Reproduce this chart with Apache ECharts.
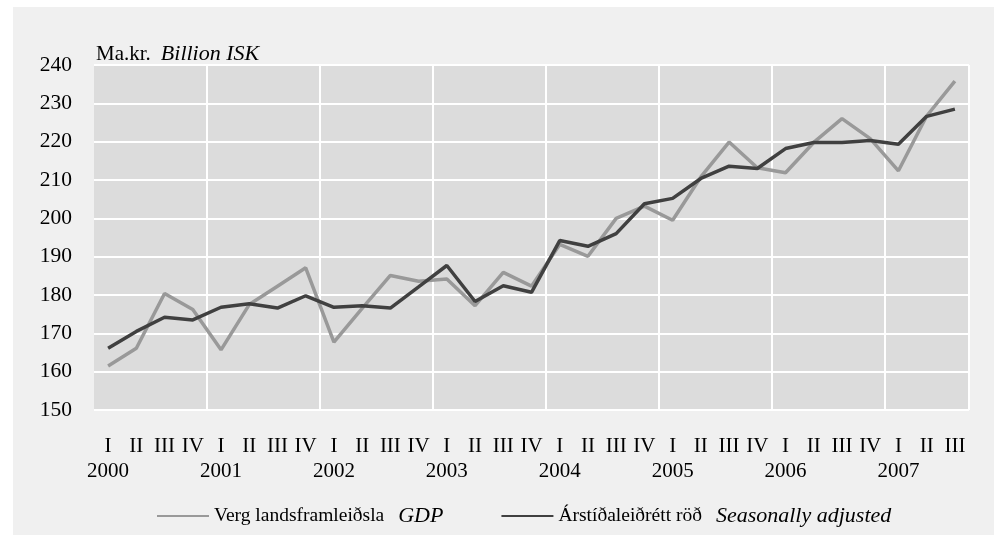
<!DOCTYPE html>
<html>
<head>
<meta charset="utf-8">
<script src="https://cdn.jsdelivr.net/npm/echarts@6/dist/echarts.min.js"></script>
<style>
html,body{margin:0;padding:0;background:#ffffff;}
#c{width:997px;height:536px;}
</style>
</head>
<body>
<div id="c"></div>
<script>
const years = ['2000','2001','2002','2003','2004','2005','2006','2007'];
const quarters = ['I','II','III','IV'];
const gdp = [161.5,166.1,180.4,176.2, 165.7,177.5,182.3,187.1, 167.7,176.5,185.1,183.6,
             184.2,177.2,185.9,182.3, 193.2,190.1,200.0,203.2, 199.5,210.8,219.9,213.2,
             211.9,219.8,226.0,220.8, 212.4,226.7,235.8];
const sa  = [166.1,170.5,174.2,173.5, 176.8,177.7,176.6,179.8, 176.8,177.2,176.6,182.1,
             187.7,178.3,182.4,180.7, 194.2,192.7,196.0,203.8, 205.2,210.4,213.6,213.0,
             218.2,219.8,219.8,220.3, 219.3,226.6,228.5];
const yTicks = {min:150, max:240, interval:10};

const categories = [];
for (let i = 0; i < gdp.length; i++) {
  categories.push(years[Math.floor(i/4)] + ' ' + quarters[i%4]);
}

const FONT = '"Liberation Serif","DejaVu Serif",serif';
const chart = echarts.init(document.getElementById('c'));
chart.setOption({
  backgroundColor: '#ffffff',
  animation: false,
  graphic: [{
    type: 'rect', z: -10, silent: true,
    shape: {x: 13, y: 7, width: 981, height: 528},
    style: {fill: '#f0f0f0'}
  }],
  title: {
    text: '{a|Ma.kr.}  {b|Billion ISK}',
    left: 91, top: 38,
    textStyle: {
      fontWeight: 'normal',
      rich: {
        a: {fontFamily: FONT, fontSize: 21, fontWeight: 'normal', color: '#000'},
        b: {fontFamily: FONT, fontSize: 22, fontWeight: 'normal', fontStyle: 'italic', color: '#000'}
      }
    }
  },
  grid: {
    left: 94, right: 28, top: 65, bottom: 126,
    show: true, backgroundColor: '#dcdcdc', borderWidth: 0
  },
  legend: {
    left: 152, top: 500,
    itemWidth: 52, itemHeight: 2, itemGap: 58,
    icon: 'rect',
    data: [
      {name: 'gdp'},
      {name: 'sa'}
    ],
    formatter: function (n) {
      return n === 'gdp' ? '{a|Verg landsframleiðsla}{s| }{b|GDP}'
                         : '{a|Árstíðaleiðrétt röð}{s| }{b|Seasonally adjusted}';
    },
    textStyle: {
      rich: {
        a: {fontFamily: FONT, fontSize: 19.5, color: '#000'},
        s: {fontFamily: FONT, fontSize: 19.5, width: 14},
        b: {fontFamily: FONT, fontSize: 22, fontStyle: 'italic', color: '#000'}
      }
    }
  },
  xAxis: {
    type: 'category',
    data: categories,
    boundaryGap: true,
    axisLine: {show: false},
    axisTick: {show: false},
    axisLabel: {
      interval: 0,
      margin: 24,
      fontFamily: FONT, fontSize: 21, color: '#000',
      lineHeight: 25,
      formatter: function (v) {
        const p = v.split(' ');
        return p[1] === 'I' ? p[1] + '\n' + p[0] : p[1] + '\n ';
      }
    },
    splitLine: {
      show: true,
      interval: function (i) { return i % 4 === 0 && i !== 0; },
      lineStyle: {color: '#ffffff', width: 2}
    }
  },
  yAxis: {
    type: 'value',
    min: yTicks.min, max: yTicks.max, interval: yTicks.interval,
    axisLine: {show: false},
    axisTick: {show: false},
    axisLabel: {margin: 22, fontFamily: FONT, fontSize: 21.5, color: '#000'},
    splitLine: {show: true, lineStyle: {color: '#ffffff', width: 2}}
  },
  series: [
    {
      name: 'gdp', type: 'line', data: gdp,
      symbol: 'none', z: 2,
      lineStyle: {color: '#999999', width: 3.5},
      itemStyle: {color: '#999999'}
    },
    {
      name: 'sa', type: 'line', data: sa,
      symbol: 'none', z: 3,
      lineStyle: {color: '#404040', width: 3.5},
      itemStyle: {color: '#404040'}
    }
  ]
});
</script>
</body>
</html>
